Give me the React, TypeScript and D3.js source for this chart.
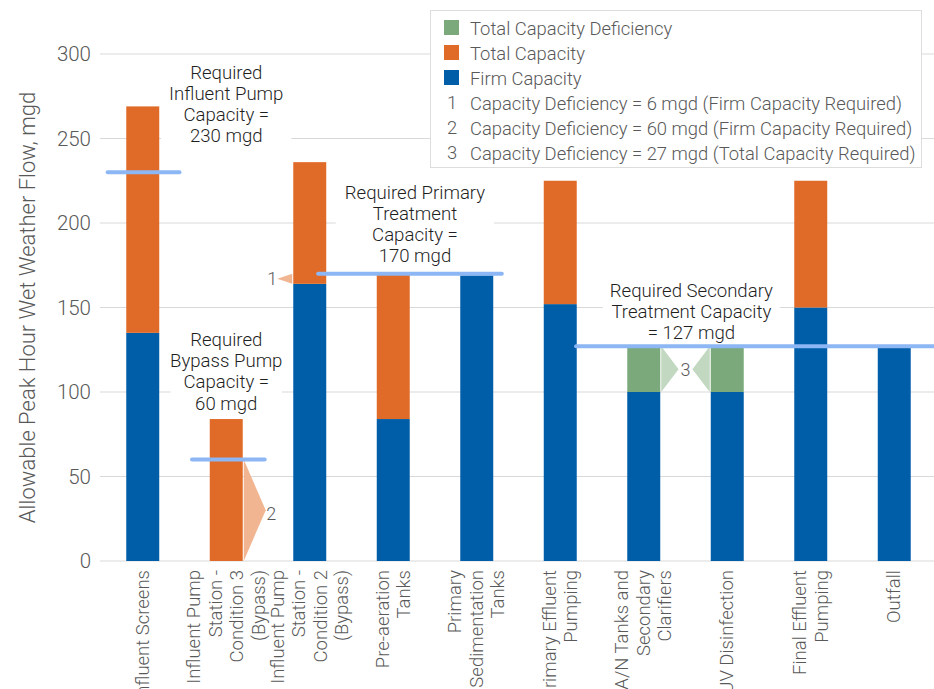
import React from "react";
import * as d3 from "d3";

const categories = [
  "Influent Screens",
  "Influent Pump|Station -|Condition 3|(Bypass)",
  "Influent Pump|Station -|Condition 2|(Bypass)",
  "Pre-aeration|Tanks",
  "Primary|Sedimentation|Tanks",
  "Primary Effluent|Pumping",
  "A/N Tanks and|Secondary|Clarifiers",
  "UV Disinfection",
  "Final Effluent|Pumping",
  "Outfall",
];
const firmCapacity = [135, 0, 164, 84, 169, 152, 100, 100, 150, 127];
const totalCapacity = [269, 84, 236, 170, 169, 225, 100, 100, 225, 127];
const totalDeficiency = [0, 0, 0, 0, 0, 0, 27, 27, 0, 0];
const yTicks = [0, 50, 100, 150, 200, 250, 300];

// required capacity lines: value, start/end in category-index units
const reqValues = [230, 60, 170, 127];
const reqStart = [-0.42, 0.59, 2.1, 5.19];
const reqEnd = [0.44, 1.46, 4.3, 9.6];

// annotations: category-index x, value of first line center
const annoTexts = [
  "Required|Influent Pump|Capacity =|230 mgd",
  "Required|Bypass Pump|Capacity =|60 mgd",
  "Required Primary|Treatment|Capacity =|170 mgd",
  "Required Secondary|Treatment Capacity|= 127 mgd",
];
const annoX = [1.0, 1.0, 3.26, 6.57];
const annoY = [289, 131, 218, 160];

// deficiency markers
const markerCat = [2, 1, 6, 7];
const markerSide = ["left", "right", "right", "left"];
const markerLow = [164, 0, 100, 100];
const markerHigh = [170, 60, 127, 127];
const markerKind = ["orange", "orange", "green", "green"];
const markerLabels = ["1", "2", "3"];
const markerLabelX = [1.55, 1.54, 6.5];
const markerLabelY = [167, 28, 113.5];

const legendSeries = ["Total Capacity Deficiency", "Total Capacity", "Firm Capacity"];
const legendNotes = [
  "Capacity Deficiency = 6 mgd (Firm Capacity Required)",
  "Capacity Deficiency = 60 mgd (Firm Capacity Required)",
  "Capacity Deficiency = 27 mgd (Total Capacity Required)",
];

const COLORS = {
  green: "#7BA97B",
  orange: "#E06A27",
  blue: "#005DA8",
  req: "#8CB6F4",
  triOrange: "#F2B592",
  triGreen: "#C2D8C0",
  grid: "#D9D9D9",
  text: "#595959",
};
const FONT = "Roboto, 'Liberation Sans', Arial, sans-serif";

export default function App() {
  const W = 934, H = 689;
  const x = d3.scaleBand<number>()
    .domain(d3.range(categories.length))
    .range([101, 936])
    .paddingInner(0.605)
    .paddingOuter(0.3025);
  const y = d3.scaleLinear().domain([0, 300]).range([561, 54]);
  const step = x.step();
  const cx = (i: number) => x(0)! + x.bandwidth() / 2 + i * step;

  const tri = (k: number) => {
    const i = markerCat[k];
    const edge = markerSide[k] === "left" ? x(i)! : x(i)! + x.bandwidth();
    const dir = markerSide[k] === "left" ? -1 : 1;
    const y0 = y(markerLow[k]), y1 = y(markerHigh[k]);
    const depth = Math.min(22, Math.max(15, (y0 - y1) * 0.38));
    const p = d3.path();
    p.moveTo(edge + dir * 1, y1);
    p.lineTo(edge + dir * (depth + 1), (y0 + y1) / 2);
    p.lineTo(edge + dir * 1, y0);
    p.closePath();
    return p.toString();
  };

  return (
    <svg width={W} height={H} style={{ position: "absolute", left: 0, top: 0, background: "#fff" }} fontFamily={FONT}>
      {/* grid */}
      {yTicks.map((t) => (
        <g key={t}>
          <line x1={100} x2={W} y1={y(t)} y2={y(t)} stroke={COLORS.grid} strokeWidth={1} />
          <text x={91} y={y(t)} textAnchor="end" dominantBaseline="central" fontSize={20.5} fontWeight={300} fill={COLORS.text}>
            {t}
          </text>
        </g>
      ))}
      <text
        transform={`translate(27,${(y(0) + y(300)) / 2}) rotate(-90)`}
        textAnchor="middle"
        dominantBaseline="central"
        fontSize={22}
        fontWeight={300}
        fill={COLORS.text}
      >
        Allowable Peak Hour Wet Weather Flow, mgd
      </text>

      {/* bars */}
      {categories.map((_, i) => (
        <g key={i}>
          {firmCapacity[i] > 0 && (
            <rect x={x(i)} width={x.bandwidth()} y={y(firmCapacity[i])} height={y(0) - y(firmCapacity[i])} fill={COLORS.blue} />
          )}
          {totalCapacity[i] > firmCapacity[i] && (
            <rect x={x(i)} width={x.bandwidth()} y={y(totalCapacity[i])} height={y(firmCapacity[i]) - y(totalCapacity[i])} fill={COLORS.orange} />
          )}
          {totalDeficiency[i] > 0 && (
            <rect
              x={x(i)}
              width={x.bandwidth()}
              y={y(totalCapacity[i] + totalDeficiency[i])}
              height={y(totalCapacity[i]) - y(totalCapacity[i] + totalDeficiency[i])}
              fill={COLORS.green}
            />
          )}
        </g>
      ))}

      {/* markers */}
      {markerCat.map((_, k) => (
        <path key={k} d={tri(k)} fill={markerKind[k] === "orange" ? COLORS.triOrange : COLORS.triGreen} />
      ))}
      {markerLabels.map((l, k) => (
        <text key={l} x={cx(markerLabelX[k])} y={y(markerLabelY[k])} textAnchor="middle" dominantBaseline="central" fontSize={18} fontWeight={300} fill={COLORS.text}>
          {l}
        </text>
      ))}

      {/* annotations */}
      {annoTexts.map((t, k) => {
        const lines = t.split("|");
        const maxLen = d3.max(lines, (l) => l.length)!;
        const w = maxLen * 9.4 + 8;
        const lh = 21.3;
        const top = y(annoY[k]) - 12;
        return (
          <g key={k}>
            <rect x={cx(annoX[k]) - w / 2} y={top} width={w} height={lines.length * lh + 2} fill="#fff" />
            {lines.map((l, j) => (
              <text key={j} x={cx(annoX[k])} y={y(annoY[k]) + j * lh} textAnchor="middle" dominantBaseline="central" fontSize={18.6} fontWeight={300} fill="#1f1f1f">
                {l}
              </text>
            ))}
          </g>
        );
      })}

      {/* required lines */}
      {reqValues.map((v, k) => (
        <line key={k} x1={cx(reqStart[k])} x2={cx(reqEnd[k])} y1={y(v)} y2={y(v)} stroke={COLORS.req} strokeWidth={4} strokeLinecap="round" />
      ))}

      {/* x labels */}
      {categories.map((c, i) => {
        const lines = c.split("|");
        const n = lines.length;
        return (
          <g key={i}>
            {lines.map((l, j) => (
              <text
                key={j}
                transform={`translate(${cx(i) + (j - (n - 1) / 2) * 21.5},570) rotate(-90)`}
                textAnchor="end"
                dominantBaseline="central"
                fontSize={18.5}
                fontWeight={300}
                fill={COLORS.text}
              >
                {l}
              </text>
            ))}
          </g>
        );
      })}

      {/* legend */}
      <g>
        <rect x={430.5} y={10.5} width={491} height={157} fill="#fff" stroke="#DDDDDD" strokeWidth={1} />
        {legendSeries.map((s, k) => (
          <g key={s}>
            <rect x={444} y={20 + k * 25} width={15} height={15} fill={[COLORS.green, COLORS.orange, COLORS.blue][k]} />
            <text x={470} y={28 + k * 25} dominantBaseline="central" fontSize={18.4} fontWeight={300} fill={COLORS.text}>{s}</text>
          </g>
        ))}
        {legendNotes.map((s, k) => (
          <g key={s}>
            <text x={452} y={28 + (k + 3) * 25 - 1} textAnchor="middle" dominantBaseline="central" fontSize={18.4} fontWeight={300} fill={COLORS.text}>{markerLabels[k]}</text>
            <text x={470} y={28 + (k + 3) * 25} dominantBaseline="central" fontSize={18.4} fontWeight={300} fill={COLORS.text}>{s}</text>
          </g>
        ))}
      </g>
    </svg>
  );
}
